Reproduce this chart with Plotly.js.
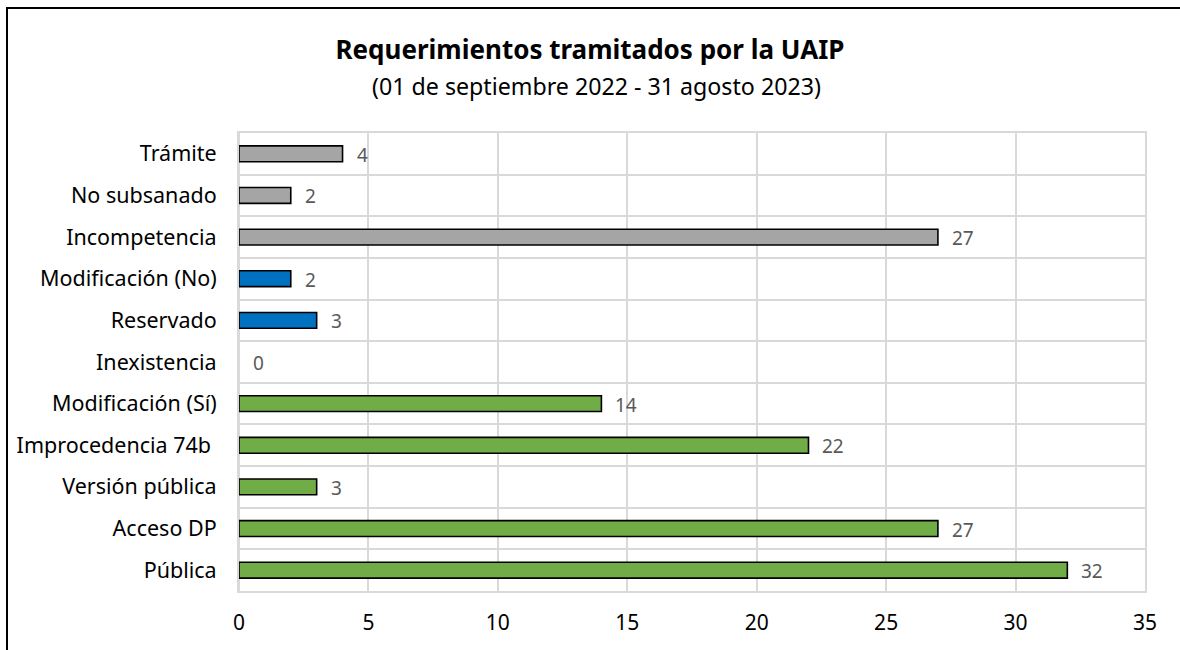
<!DOCTYPE html>
<html>
<head>
<meta charset="utf-8">
<script src="https://cdn.plot.ly/plotly-3.0.1.min.js"></script>
<style>
html,body{margin:0;padding:0;background:#fff;overflow:hidden;width:1180px;height:650px;}
#wrap{position:relative;width:1180px;height:650px;overflow:hidden;}
#chart{width:1180px;height:650px;}
#frame{position:absolute;left:6px;top:7px;width:1300px;height:800px;border-left:2.5px solid #000;border-top:2.5px solid #000;pointer-events:none;}
</style>
</head>
<body>
<div id="wrap"><div id="chart"></div><div id="frame"></div></div>
<script>
// Categories listed bottom to top (Plotly draws the first category at the bottom)
const categories = ["Pública", "Acceso DP", "Versión pública", "Improcedencia 74b ", "Modificación (Sí)", "Inexistencia", "Reservado", "Modificación (No)", "Incompetencia", "No subsanado", "Trámite"];
const values = [32, 27, 3, 22, 14, 0, 3, 2, 27, 2, 4];
const groups = ["green", "green", "green", "green", "green", "green", "blue", "blue", "gray", "gray", "gray"];
const xTicks = [0, 5, 10, 15, 20, 25, 30, 35];

const palette = {green: "#70AD47", blue: "#0070C0", gray: "#A5A5A5"};
const FONT = "Noto Sans, Open Sans, sans-serif";

const W = 1180, H = 650;
const margin = {l: 239, r: 35, t: 133, b: 59};
const pw = W - margin.l - margin.r, ph = H - margin.t - margin.b;

const trace = {
  type: "bar",
  orientation: "h",
  y: categories,
  x: values,
  width: 0.38,
  marker: {
    color: groups.map(g => palette[g]),
    line: {color: "#000000", width: values.map(v => v === 0 ? 0 : 1.6)}
  },
  cliponaxis: false,
  hoverinfo: "x+y"
};

const valueLabels = categories.map((c, i) => ({
  xref: "x", yref: "y",
  x: values[i], y: c,
  text: String(values[i]),
  xanchor: "left", yanchor: "middle",
  xshift: 12, yshift: -1,
  showarrow: false,
  font: {family: FONT, size: 19, color: "#595959"}
}));

const layout = {
  width: W, height: H,
  margin: margin,
  paper_bgcolor: "#ffffff",
  plot_bgcolor: "#ffffff",
  showlegend: false,
  title: {
    text: "<b>Requerimientos tramitados por la UAIP</b>",
    font: {family: FONT, size: 26, color: "#000000"},
    x: 0.5, xanchor: "center",
    y: 1 - 50 / H, yanchor: "middle"
  },
  annotations: [{
    text: "(01 de septiembre 2022 - 31 agosto 2023)",
    xref: "paper", yref: "paper",
    x: 0.5 + (596 - margin.l - pw / 2) / pw, xanchor: "center",
    y: 1 + (margin.t - 86) / ph, yanchor: "middle",
    showarrow: false,
    font: {family: FONT, size: 23.2, color: "#000000"}
  }].concat(valueLabels),
  xaxis: {
    range: [0, 35],
    tickvals: xTicks,
    ticktext: xTicks.map(String),
    showgrid: true, gridcolor: "#D9D9D9", gridwidth: 2,
    zeroline: true, zerolinecolor: "#D9D9D9", zerolinewidth: 2,
    showline: true, linecolor: "#D9D9D9", linewidth: 2, mirror: true,
    ticks: "", ticklabelstandoff: 12,
    tickfont: {family: FONT, size: 21, color: "#000000"},
    fixedrange: true
  },
  yaxis: {
    type: "category",
    categoryorder: "array", categoryarray: categories,
    tickson: "boundaries",
    showgrid: true, gridcolor: "#D9D9D9", gridwidth: 2,
    showline: true, linecolor: "#D9D9D9", linewidth: 2, mirror: true,
    ticks: "", ticklabelstandoff: 16,
    tickfont: {family: FONT, size: 21.5, color: "#000000"},
    fixedrange: true
  }
};

Plotly.newPlot("chart", [trace], layout, {displayModeBar: false, staticPlot: true});
</script>
</body>
</html>
